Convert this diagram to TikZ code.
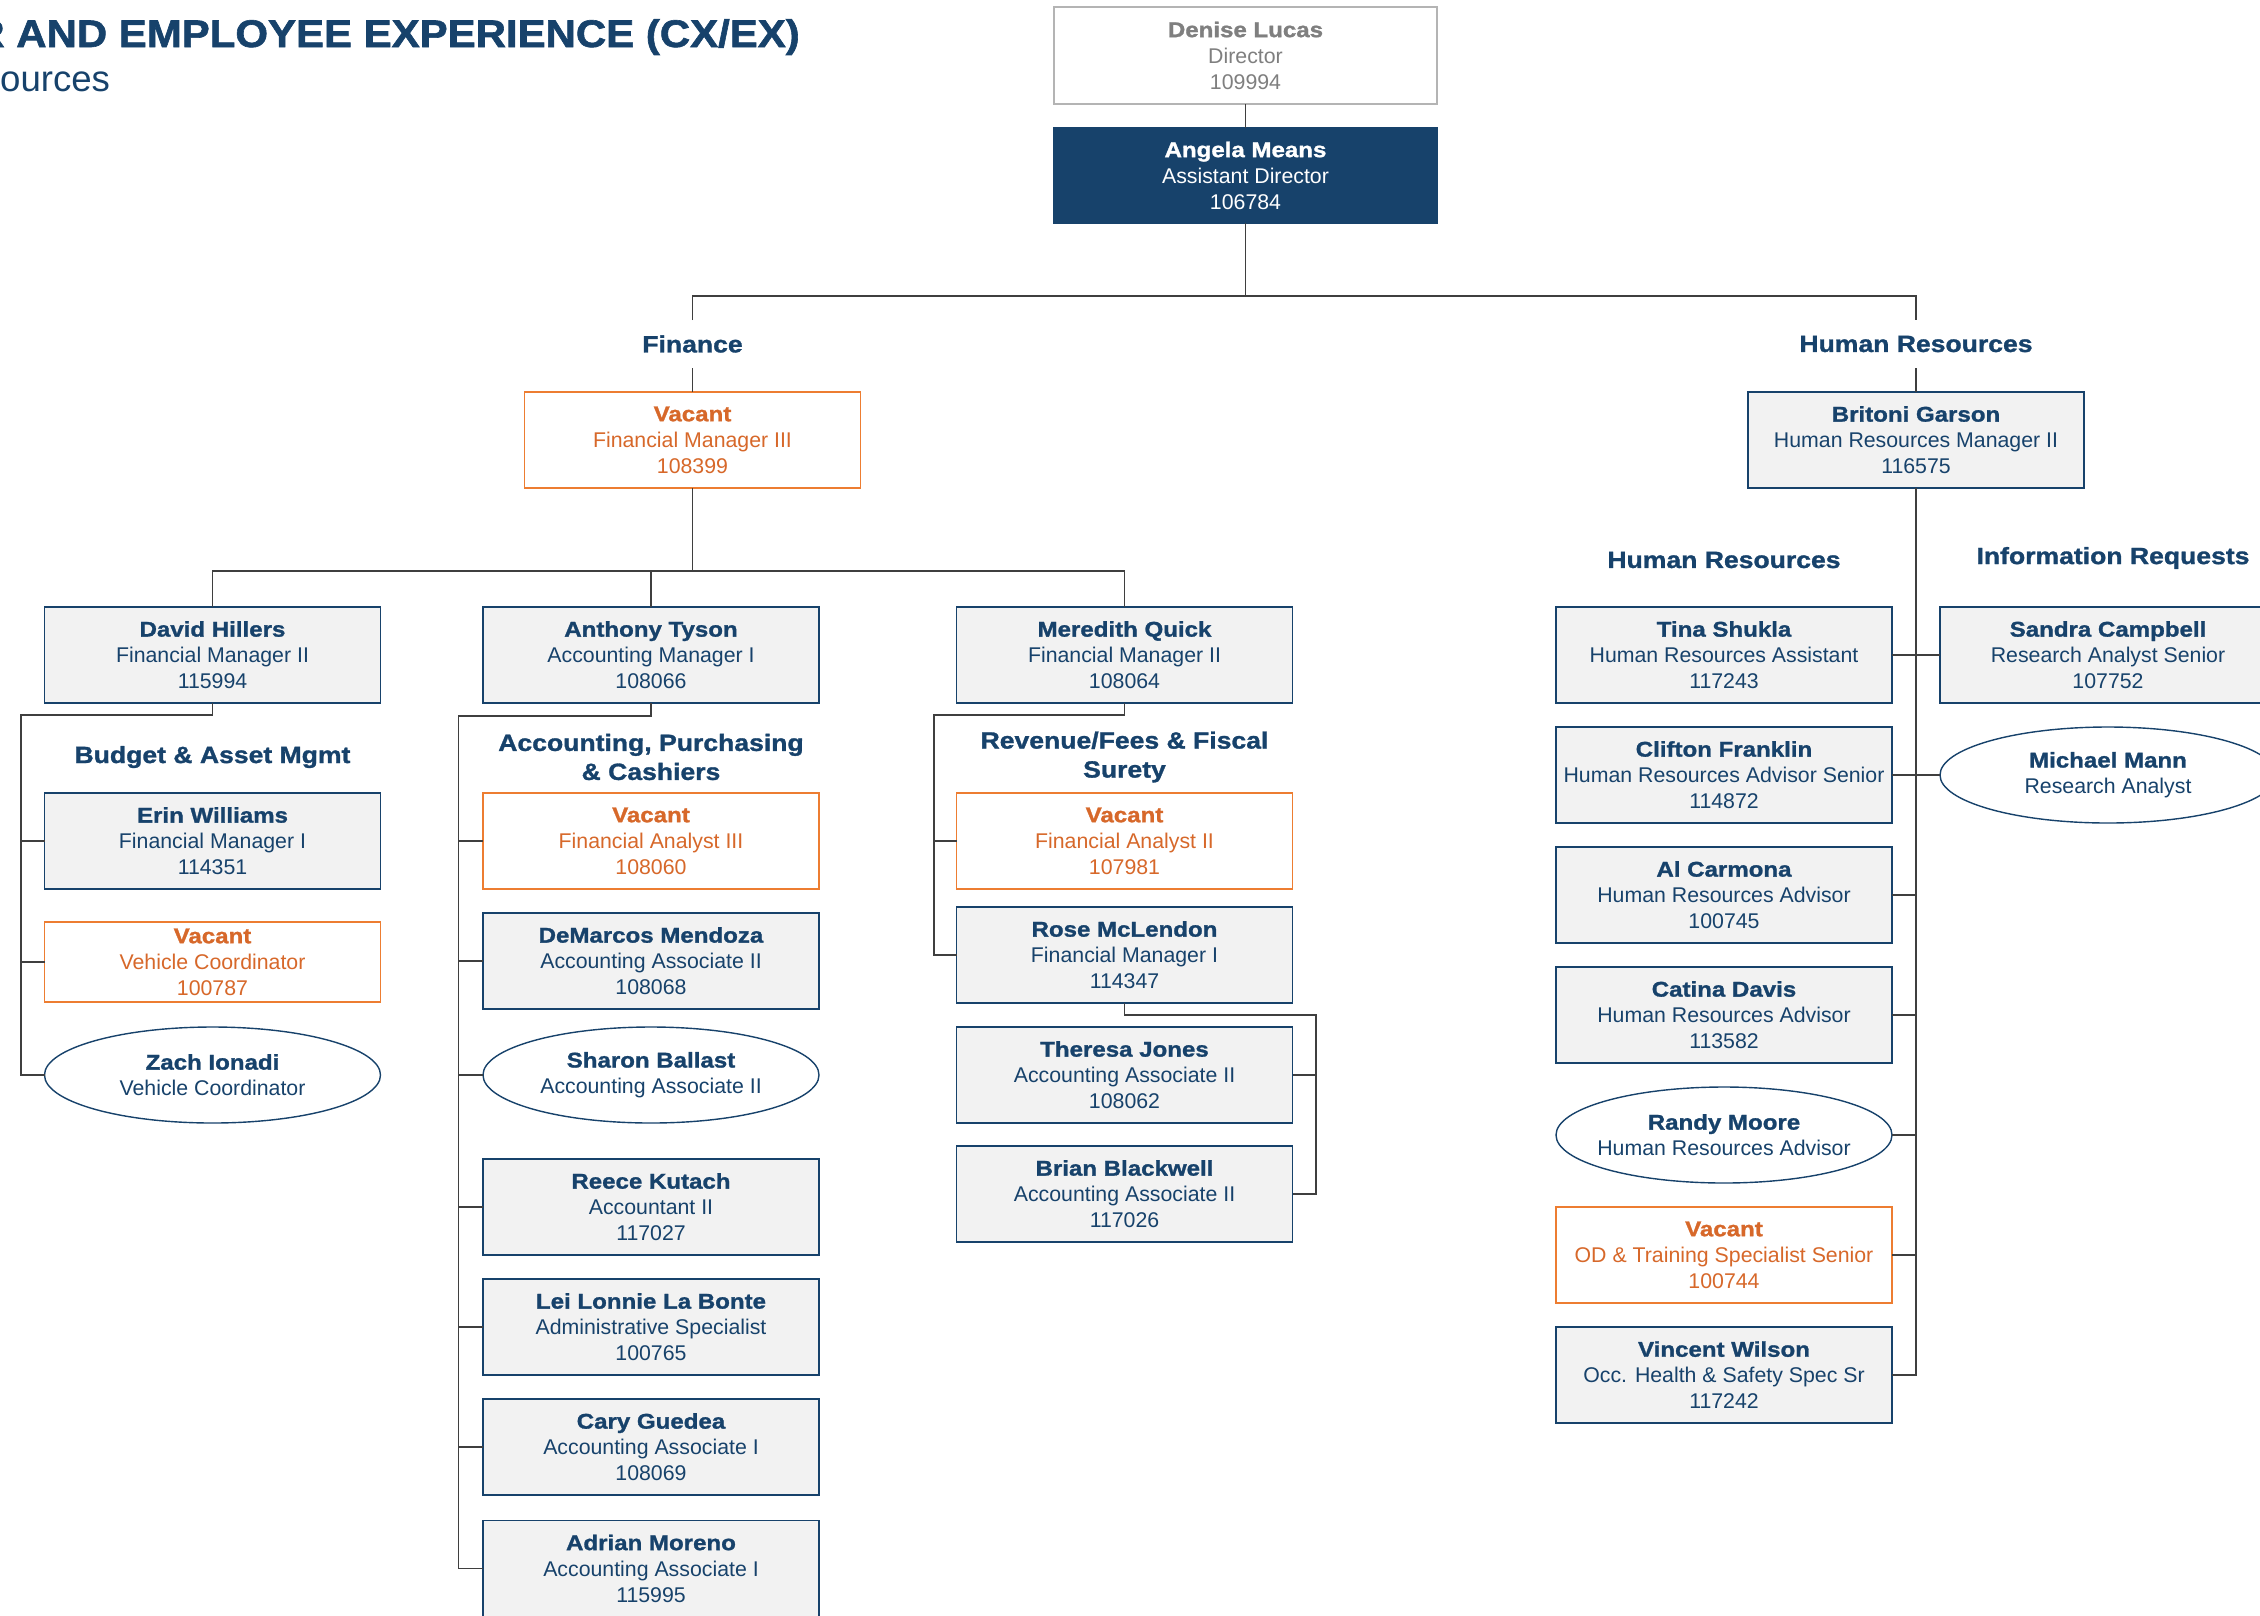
\documentclass[tikz,border=0pt]{standalone}
\usepackage{fontspec}
\setmainfont{Liberation Sans}
\newfontfamily\bfont{Liberation Sans}[FakeStretch=1.13, BoldFeatures={FakeBold=1.3}]
\newfontfamily\tfont{Liberation Sans}[FakeStretch=1.09, BoldFeatures={FakeBold=1.6}]
\usetikzlibrary{shapes.geometric}
\definecolor{navy}{HTML}{17426B}
\definecolor{boxgray}{HTML}{F2F2F2}
\definecolor{vactext}{HTML}{D7682A}
\definecolor{vacborder}{HTML}{ED7D31}
\definecolor{dirgray}{HTML}{7F7F7F}
\definecolor{dirborder}{HTML}{B4B4B4}
\definecolor{linegray}{HTML}{3F3F3F}
\newcommand{\emptxt}[3]{{\bfont\bfseries #1}\\#2\\#3}
\newcommand{\ovaltxt}[2]{{\bfont\bfseries #1}\\#2}
\tikzset{
  emp/.style={draw=navy, fill=boxgray, line width=1.4pt, minimum width=336pt,
    minimum height=96pt, inner sep=0pt, outer sep=0pt, align=center, text=navy,
    font=\fontsize{21.3}{26}\selectfont},
  vac/.style={emp, draw=vacborder, fill=white, text=vactext},
  oval/.style={emp, ellipse, fill=white, inner xsep=-60pt},
  sect/.style={text=navy, align=center, inner sep=0pt, outer sep=0pt,
    minimum height=48pt, font=\fontsize{23.5}{29}\bfont\bfseries},
  conn/.style={draw=linegray, line width=1.3pt},
}
\begin{document}
\begin{tikzpicture}[x=1pt,y=-1pt]
\useasboundingbox (0,0) rectangle (2260,1615);
% title
\node[anchor=base east, inner sep=0pt, text=navy, font=\fontsize{38.5}{40}\tfont\bfseries] (title) at (800,47) {R AND EMPLOYEE EXPERIENCE (CX/EX)};
\node[anchor=base west, inner sep=0pt, text=navy, font=\fontsize{36.6}{40}\selectfont] (subtitle) at (0,91) {ources};
% top
\node[emp, draw=dirborder, fill=white, text=dirgray, minimum width=383pt, minimum height=97pt] (denise) at (1245.5,55.5) {\emptxt{Denise Lucas}{Director}{109994}};
\node[emp, fill=navy, text=white, minimum width=383pt, minimum height=95pt] (angela) at (1245.5,175.5) {\emptxt{Angela Means}{Assistant Director}{106784}};
\coordinate (topbus) at (1245.5,296);
% section labels
\node[sect] (finlabel) at (692.5,344) {Finance};
\node[sect] (hrlabel) at (1916,344) {Human Resources};
\node[vac] (fm3) at (692.5,440) {\emptxt{Vacant}{Financial Manager III}{108399}};
\node[emp] (britoni) at (1916,440) {\emptxt{Britoni Garson}{Human Resources Manager II}{116575}};
\coordinate (finbus) at (692.5,571);
% finance managers
\node[emp] (david) at (212.5,655) {\emptxt{David Hillers}{Financial Manager II}{115994}};
\node[emp] (anthony) at (651,655) {\emptxt{Anthony Tyson}{Accounting Manager I}{108066}};
\node[emp] (meredith) at (1124.5,655) {\emptxt{Meredith Quick}{Financial Manager II}{108064}};
% budget column
\coordinate (dl) at (21,715);
\node[sect] (budlabel) at (212.5,757) {Budget \& Asset Mgmt};
\node[emp] (erin) at (212.5,841) {\emptxt{Erin Williams}{Financial Manager I}{114351}};
\node[vac, minimum height=80pt] (vvc) at (212.5,962) {\emptxt{Vacant}{Vehicle Coordinator}{100787}};
\node[oval] (zach) at (212.5,1075) {\ovaltxt{Zach Ionadi}{Vehicle Coordinator}};
% accounting column
\coordinate (al) at (458.5,716);
\node[sect] (apclabel) at (651,757) {Accounting, Purchasing\\\& Cashiers};
\node[vac] (vfa3) at (651,841) {\emptxt{Vacant}{Financial Analyst III}{108060}};
\node[emp] (demarcos) at (651,961) {\emptxt{DeMarcos Mendoza}{Accounting Associate II}{108068}};
\node[oval] (sharon) at (651,1075) {\ovaltxt{Sharon Ballast}{Accounting Associate II}};
\node[emp] (reece) at (651,1207) {\emptxt{Reece Kutach}{Accountant II}{117027}};
\node[emp] (lei) at (651,1327) {\emptxt{Lei Lonnie La Bonte}{Administrative Specialist}{100765}};
\node[emp] (cary) at (651,1447) {\emptxt{Cary Guedea}{Accounting Associate I}{108069}};
\node[emp] (adrian) at (651,1568.5) {\emptxt{Adrian Moreno}{Accounting Associate I}{115995}};
% revenue column
\coordinate (ml) at (934,715);
\node[sect] (revlabel) at (1124.5,757) {Revenue/Fees \& Fiscal\\Surety};
\node[vac] (vfa2) at (1124.5,841) {\emptxt{Vacant}{Financial Analyst II}{107981}};
\node[emp] (rose) at (1124.5,955) {\emptxt{Rose McLendon}{Financial Manager I}{114347}};
\coordinate (rr) at (1316,1015);
\node[emp] (theresa) at (1124.5,1075) {\emptxt{Theresa Jones}{Accounting Associate II}{108062}};
\node[emp] (brian) at (1124.5,1194) {\emptxt{Brian Blackwell}{Accounting Associate II}{117026}};
% HR
\node[sect] (hrsub) at (1724,560) {Human Resources};
\node[sect] (inforeq) at (2113,558) {Information Requests};
\node[emp] (tina) at (1724,655) {\emptxt{Tina Shukla}{Human Resources Assistant}{117243}};
\node[emp] (sandra) at (2108,655) {\emptxt{Sandra Campbell}{Research Analyst Senior}{107752}};
\node[emp] (clifton) at (1724,775) {\emptxt{Clifton Franklin}{Human Resources Advisor Senior}{114872}};
\node[oval] (michael) at (2108,775) {\ovaltxt{Michael Mann}{Research Analyst}};
\node[emp] (alc) at (1724,895) {\emptxt{Al Carmona}{Human Resources Advisor}{100745}};
\node[emp] (catina) at (1724,1015) {\emptxt{Catina Davis}{Human Resources Advisor}{113582}};
\node[oval] (randy) at (1724,1135) {\ovaltxt{Randy Moore}{Human Resources Advisor}};
\node[vac] (vod) at (1724,1255) {\emptxt{Vacant}{OD \& Training Specialist Senior}{100744}};
\node[emp] (vincent) at (1724,1375) {\emptxt{Vincent Wilson}{Occ. Health \& Safety Spec Sr}{117242}};
% connectors
\draw[conn] (denise.south) -- (angela.north);
\draw[conn] (angela.south) -- (topbus);
\draw[conn] (finlabel.north) |- (topbus) -| (hrlabel.north);
\draw[conn] (finlabel.south) -- (fm3.north);
\draw[conn] (hrlabel.south) -- (britoni.north);
\draw[conn] (fm3.south) -- (finbus);
\draw[conn] (david.north) |- (finbus) -| (meredith.north);
\draw[conn] (anthony.north) -- (anthony.north |- finbus);
% budget
\draw[conn] (david.south) |- (dl) |- (zach.west);
\draw[conn] (dl |- erin.west) -- (erin.west);
\draw[conn] (dl |- vvc.west) -- (vvc.west);
% accounting
\draw[conn] (anthony.south) |- (al) |- (adrian.west);
\foreach \n in {vfa3,demarcos,sharon,reece,lei,cary}
  \draw[conn] (al |- \n.west) -- (\n.west);
% revenue
\draw[conn] (meredith.south) |- (ml) |- (rose.west);
\draw[conn] (ml |- vfa2.west) -- (vfa2.west);
\draw[conn] (rose.south) |- (rr) |- (brian.east);
\draw[conn] (rr |- theresa.east) -- (theresa.east);
% HR
\draw[conn] (britoni.south) |- (vincent.east);
\draw[conn] (tina.east) -- (sandra.west);
\draw[conn] (clifton.east) -- (michael.west);
\foreach \n in {alc,catina,randy,vod}
  \draw[conn] (britoni.south |- \n.east) -- (\n.east);
\end{tikzpicture}
\end{document}
